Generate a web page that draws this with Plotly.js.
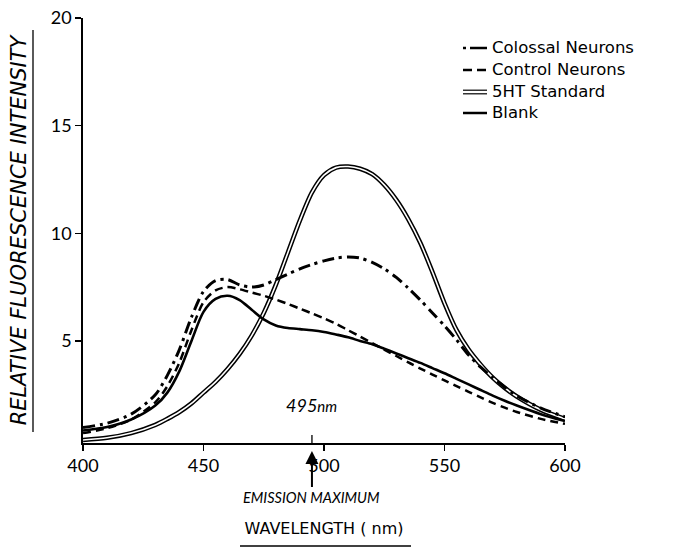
<!DOCTYPE html>
<html>
<head>
<meta charset="utf-8">
<script src="https://cdn.plot.ly/plotly-3.0.1.min.js"></script>
<style>html,body{margin:0;padding:0;background:#fff;}#chart{width:688px;height:559px;}</style>
</head>
<body>
<div id="chart"></div>
<script>
// Wavelength (nm)
const wavelength = [400,410,420,430,435,440,445,450,455,460,465,470,475,480,485,490,495,500,505,510,515,520,525,530,535,540,545,550,555,560,565,570,575,580,590,600];
// Relative fluorescence intensity
const colossal = [0.98,1.18,1.6,2.5,3.4,4.6,6.1,7.3,7.8,7.85,7.6,7.5,7.6,7.85,8.1,8.35,8.55,8.72,8.85,8.9,8.85,8.65,8.35,7.95,7.45,6.9,6.3,5.7,5.05,4.35,3.78,3.3,2.85,2.45,1.88,1.48];
const control  = [0.72,0.95,1.35,2.15,2.9,4.0,5.5,6.8,7.35,7.5,7.4,7.25,7.1,6.92,6.72,6.5,6.28,6.05,5.8,5.5,5.2,4.9,4.6,4.3,4.0,3.72,3.44,3.17,2.9,2.64,2.38,2.12,1.9,1.7,1.38,1.15];
const standard = [0.4,0.5,0.72,1.1,1.38,1.7,2.1,2.6,3.1,3.7,4.4,5.25,6.3,7.6,9.1,10.6,11.9,12.7,13.05,13.1,13.0,12.75,12.25,11.55,10.65,9.55,8.2,6.75,5.5,4.6,3.9,3.3,2.82,2.42,1.8,1.38];
const blank    = [0.84,1.0,1.35,2.0,2.6,3.6,5.0,6.35,6.95,7.1,6.9,6.45,6.0,5.72,5.6,5.55,5.5,5.42,5.3,5.17,5.0,4.85,4.64,4.42,4.2,3.98,3.74,3.5,3.24,2.98,2.72,2.46,2.22,2.0,1.6,1.28];
const seriesNames = ["Colossal Neurons","Control Neurons","5HT Standard","Blank"];
const xTicks = [400,450,500,550,600];
const yTicks = [5,10,15,20];
const emissionMax = 495;

const FONT = "Lato, 'Open Sans', 'DejaVu Sans', sans-serif";
const WIDE = "'DejaVu Sans', Lato, sans-serif";
const spline = {shape:'spline', smoothing:0.8};

const traces = [
  {x:wavelength, y:standard, mode:'lines', name:seriesNames[2], line:Object.assign({color:'#000', width:4.6}, spline), showlegend:false, hoverinfo:'skip'},
  {x:wavelength, y:standard, mode:'lines', name:seriesNames[2]+' (inner)', line:Object.assign({color:'#fff', width:1.6}, spline), showlegend:false, hoverinfo:'skip'},
  {x:wavelength, y:blank, mode:'lines', name:seriesNames[3], line:Object.assign({color:'#000', width:2.6}, spline), showlegend:false},
  {x:wavelength, y:control, mode:'lines', name:seriesNames[1], line:Object.assign({color:'#000', width:2.5, dash:'8px,5px'}, spline), showlegend:false},
  {x:wavelength, y:colossal, mode:'lines', name:seriesNames[0], line:Object.assign({color:'#000', width:3, dash:'12px,5px,3px,5px'}, spline), showlegend:false}
];

// Manual legend (paper coordinates; plot area is 482 x 425 px)
const px = v => (v - 83) / 482;      // page x -> paper x
const py = v => (443 - v) / 425;     // page y -> paper y
const legendRowY = [48, 70, 92, 113];
const shapes = [];
const annotations = [];
function seg(x0, x1, y, w) {
  shapes.push({type:'line', xref:'paper', yref:'paper', x0:px(x0), x1:px(x1), y0:py(y), y1:py(y), line:{color:'#000', width:w}});
}
seriesNames.forEach((n, i) => {
  const y = legendRowY[i];
  if (i === 0) { seg(463, 466, y, 2.5); seg(470, 487, y, 2.5); }
  else if (i === 1) { seg(463, 472, y, 2.5); seg(477, 486, y, 2.5); }
  else if (i === 2) { seg(463, 487, y - 1.8, 1.2); seg(463, 487, y + 1.8, 1.2); }
  else { seg(463, 487, y, 2.5); }
  annotations.push({xref:'paper', yref:'paper', x:px(490), y:py(y), xanchor:'left', yanchor:'middle', text:n, showarrow:false, font:{family:WIDE, size:16.5, color:'#000'}});
});

// Emission maximum marker
shapes.push({type:'line', xref:'x', yref:'paper', x0:emissionMax, x1:emissionMax, y0:0, y1:py(435), line:{color:'#000', width:1.3}});
annotations.push({xref:'x', yref:'paper', x:emissionMax, y:py(405), xanchor:'center', yanchor:'middle', text:'495<span style="font-size:15px">nm</span>', showarrow:false, font:{family:FONT, size:18, color:'#000', style:'italic'}});
annotations.push({xref:'x', yref:'paper', x:emissionMax, y:py(451), ax:0, ay:46, text:'EMISSION MAXIMUM', showarrow:true, arrowhead:2, arrowsize:1.3, arrowwidth:2, arrowcolor:'#000', font:{family:FONT, size:14.5, color:'#000', style:'italic'}});

// Title underlines
shapes.push({type:'line', xref:'paper', yref:'paper', x0:px(33), x1:px(33), y0:py(432), y1:py(30), line:{color:'#000', width:1.3}});
shapes.push({type:'line', xref:'paper', yref:'paper', x0:px(240), x1:px(411), y0:py(546), y1:py(546), line:{color:'#000', width:1.3}});

const layout = {
  width:688, height:559,
  margin:{l:83, r:123, t:18, b:116},
  paper_bgcolor:'#fff', plot_bgcolor:'#fff',
  showlegend:false,
  font:{family:FONT, color:'#000'},
  xaxis:{
    range:[400,600], tickvals:xTicks, ticktext:xTicks.map(String),
    ticks:'outside', ticklen:6, tickwidth:1.5, tickcolor:'#000',
    showline:true, linecolor:'#000', linewidth:1.8, showgrid:false, zeroline:false,
    tickfont:{family:FONT, size:18, color:'#000'},
    title:{text:'WAVELENGTH ( nm)', standoff:47, font:{family:WIDE, size:16, color:'#000'}}
  },
  yaxis:{
    range:[0.26,20], tickvals:yTicks, ticktext:yTicks.map(String),
    ticks:'outside', ticklen:6, tickwidth:1.5, tickcolor:'#000',
    showline:true, linecolor:'#000', linewidth:1.8, showgrid:false, zeroline:false,
    tickfont:{family:FONT, size:18, color:'#000'},
    title:{text:'RELATIVE FLUORESCENCE INTENSITY', standoff:18, font:{family:WIDE, size:21, color:'#000', style:'italic'}}
  },
  shapes:shapes,
  annotations:annotations
};

Plotly.newPlot('chart', traces, layout, {staticPlot:true, displayModeBar:false});
</script>
</body>
</html>
